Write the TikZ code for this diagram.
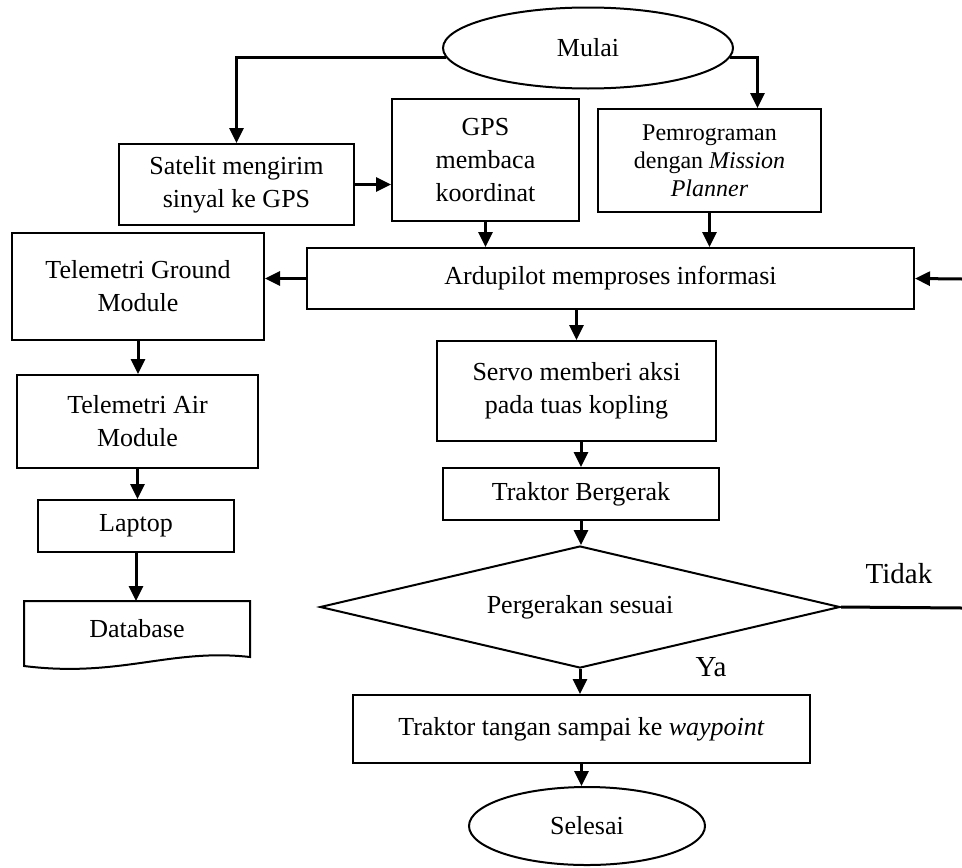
\documentclass[tikz,border=0pt]{standalone}
\usepackage{fontspec}
\setmainfont{Liberation Serif}
\usetikzlibrary{arrows.meta,shapes.geometric,calc}

\begin{document}
\begin{tikzpicture}[x=0.5pt,y=-0.5pt,
    box/.style={draw, line width=1pt, rectangle, inner sep=0pt, align=center, font=\fontsize{13}{16.5}\selectfont},
    term/.style={draw, line width=1pt, ellipse, inner sep=0pt, font=\fontsize{13}{16.5}\selectfont},
    flow/.style={line width=1.5pt, -{Triangle[length=7.5pt,width=7pt]}},
    lbl/.style={font=\fontsize{14.5}{16}\selectfont, inner sep=0pt}]
    \useasboundingbox (0,0) rectangle (962,867);
    \node[term, minimum width=145pt, minimum height=40.5pt] (start) at (588,48) {Mulai};
    \node[box, minimum width=117.5pt, minimum height=40.5pt] (sat) at (236.5,184.5) {Satelit mengirim\\sinyal ke GPS};
    \node[box, minimum width=93.5pt, minimum height=61pt] (gps) at (485.5,160) {GPS\\membaca\\koordinat};
    \node[box, minimum width=111.5pt, minimum height=51.5pt, font=\fontsize{12}{14}\selectfont] (prog) at (709.5,160.5) {Pemrograman\\dengan \textit{Mission}\\\textit{Planner}};
    \node[box, minimum width=303.5pt, minimum height=30.5pt] (ardu) at (610.5,278.5) {Ardupilot memproses informasi};
    \node[box, minimum width=126pt, minimum height=53.5pt] (tgm) at (138,286.5) {Telemetri Ground\\Module};
    \node[box, minimum width=120.5pt, minimum height=46.5pt] (tam) at (137.5,421.5) {Telemetri Air\\Module};
    \node[box, minimum width=98pt, minimum height=26pt] (laptop) at (136,526) {Laptop};
    \node[box, draw=none, minimum width=112pt, minimum height=27pt] (db) at (137,629) {Database};
    \draw[line width=1pt] (db.north west) -- (db.north east) -- (db.south east)
        .. controls (170,648) and (120,678) .. ([yshift=-4.5pt]db.south west) -- cycle;
    \node[box, minimum width=139.5pt, minimum height=50pt] (servo) at (576.5,391) {Servo memberi aksi\\pada tuas kopling};
    \node[box, minimum width=138pt, minimum height=26pt] (move) at (581,494) {Traktor Bergerak};
    \node[box, diamond, shape aspect=4.26, minimum width=260pt, minimum height=61pt] (check) at (580,607) {Pergerakan sesuai};
    \node[box, minimum width=228.5pt, minimum height=34pt] (goal) at (581.5,729) {Traktor tangan sampai ke \textit{waypoint}};
    \node[term, minimum width=118pt, minimum height=39pt] (finish) at (587,826) {Selesai};
    \node[lbl] (no) at (899,574) {Tidak};
    \node[lbl] (yes) at (711,667) {Ya};
    \coordinate (back) at (962,279);
    \coordinate (away) at (962,608);

    \draw[flow] (start.184) -| (sat.north);
    \draw[flow] (start.-4) -| ([xshift=24pt]prog.north);
    \draw[flow] (sat.east) -- (gps.west |- sat.east);
    \draw[flow] (gps.south) -- (gps.south |- ardu.north);
    \draw[flow] (prog.south) -- (prog.south |- ardu.north);
    \draw[flow] (back) -- (ardu.east);
    \draw[flow] (ardu.west) -- (tgm.east |- ardu.west);
    \draw[flow] (tgm.south) -- (tgm.south |- tam.north);
    \draw[flow] (tam.south) -- (tam.south |- laptop.north);
    \draw[flow] (laptop.south) -- (laptop.south |- db.north);
    \draw[flow] (servo.north |- ardu.south) -- (servo.north);
    \draw[flow] (move.north |- servo.south) -- (move.north);
    \draw[flow] (move.south) -- (move.south |- check.north);
    \draw[flow] (check.south) -- (check.south |- goal.north);
    \draw[flow] (goal.south) -- (goal.south |- finish.north);
    \draw[line width=1.5pt] (check.east) -- (away);
  \end{tikzpicture}
\end{document}
